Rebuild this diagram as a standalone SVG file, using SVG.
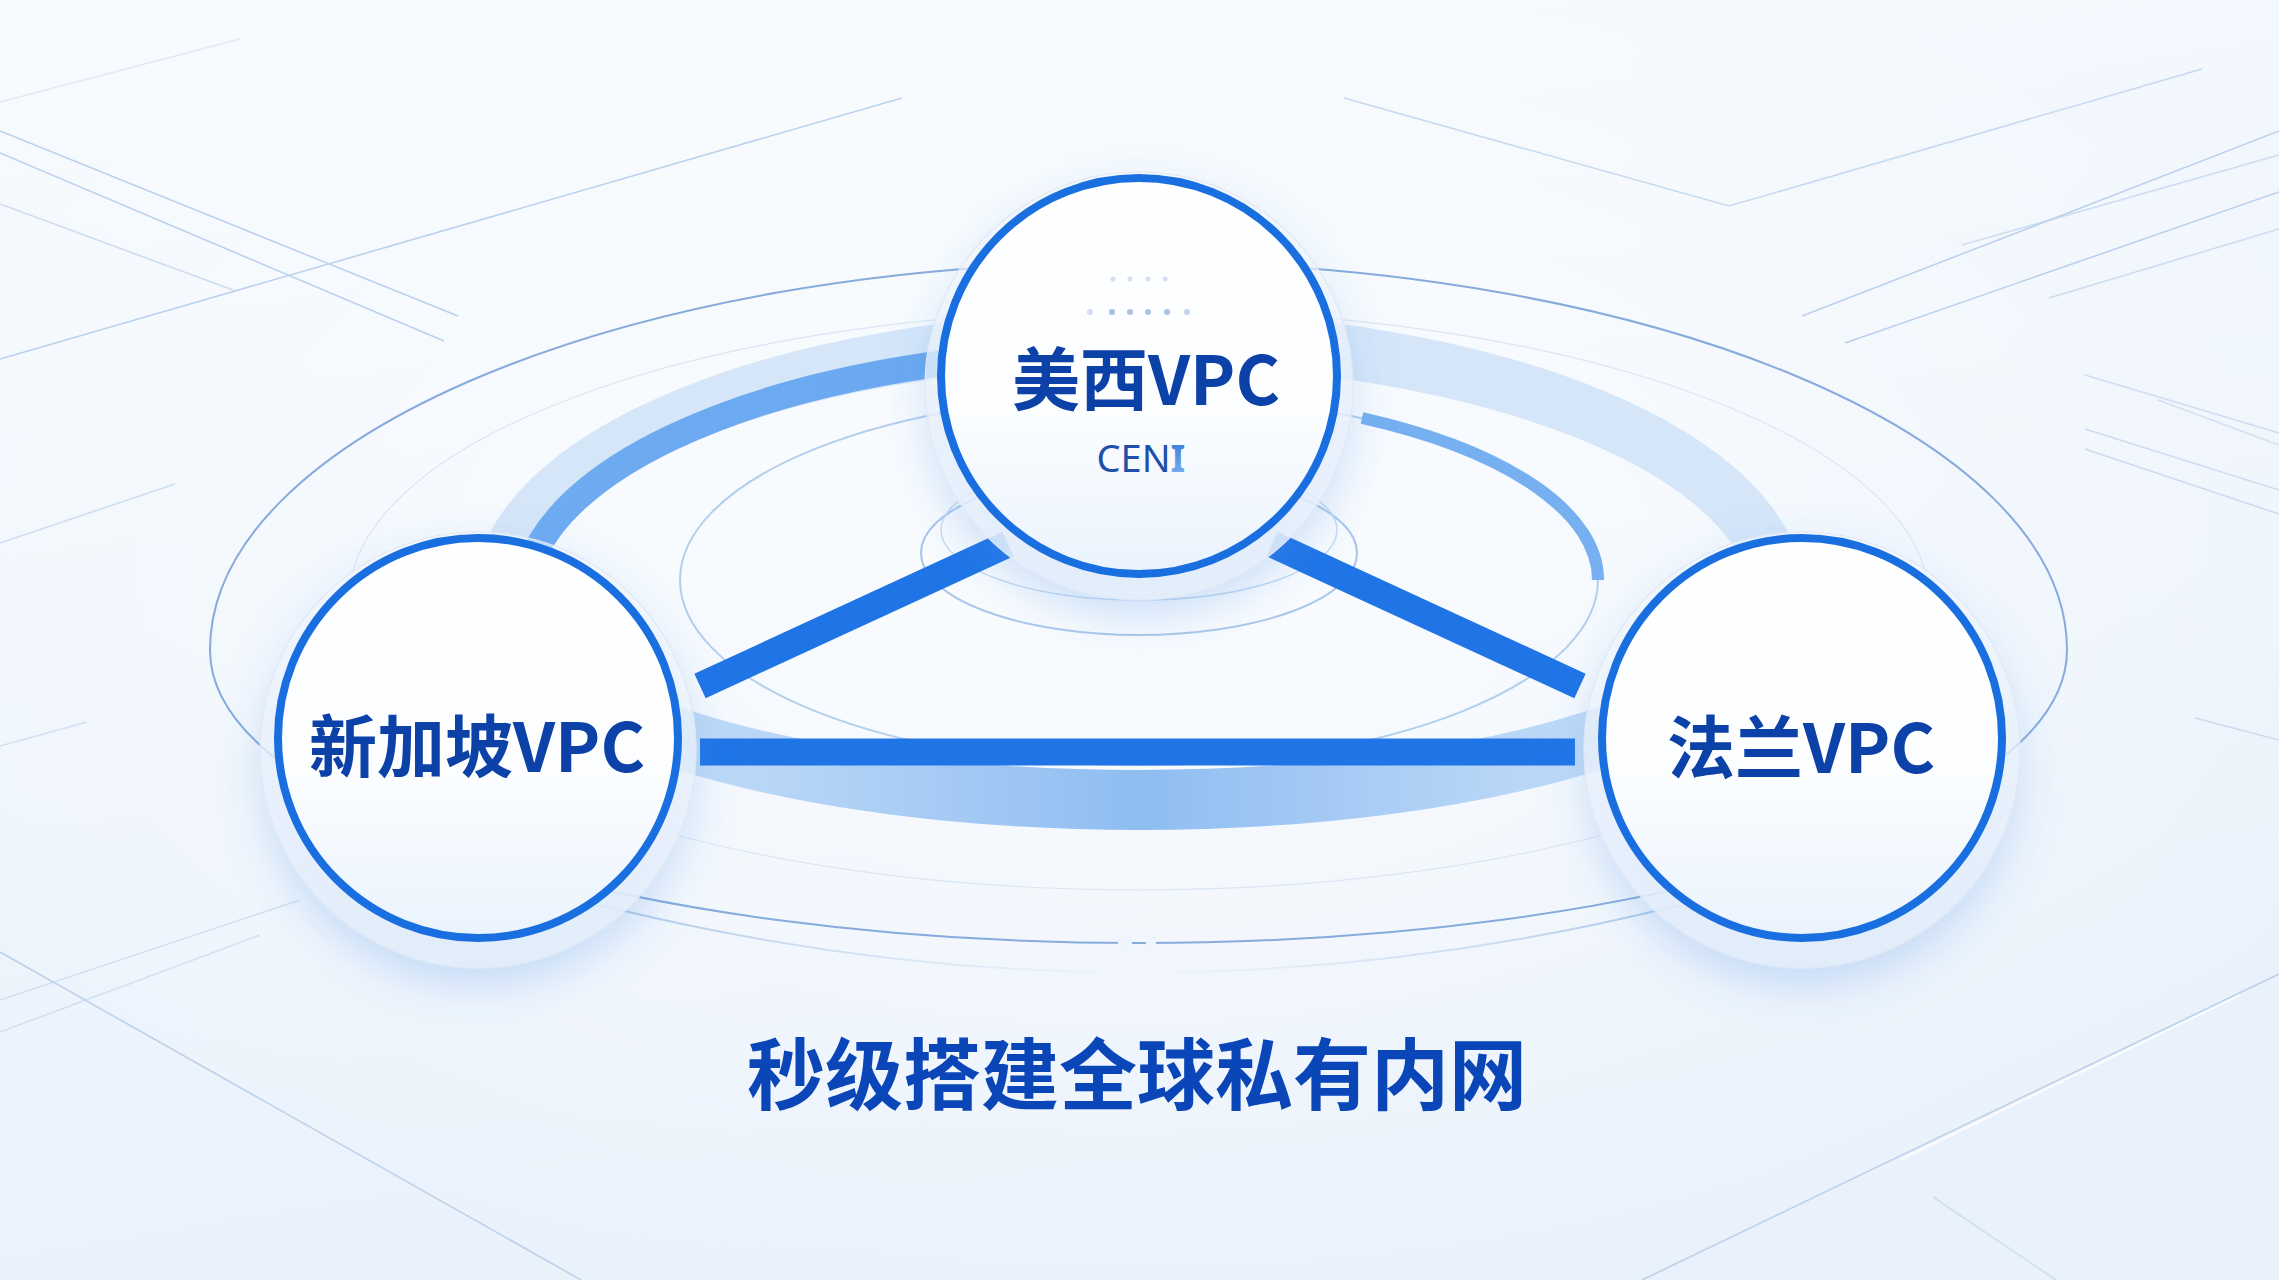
<svg xmlns="http://www.w3.org/2000/svg" width="2279" height="1280" viewBox="0 0 2279 1280">
<defs>
<style>
.bgl{fill:none;stroke:#bcd2ec;stroke-width:1.6}
.node-ring{fill:url(#nodeFill);stroke:#1a6fe0;stroke-width:8}
.halo{fill:url(#haloFill);stroke:#dde8f5;stroke-width:1.2}
.lbl{font-family:"Noto Sans CJK SC","Noto Sans",sans-serif;font-weight:700;font-size:68px;fill:#0c41a8;text-anchor:middle}
.bar{stroke:#1f74e6;stroke-width:27;fill:none;stroke-linecap:butt}
.dot{fill:#a9c1e2}
</style>
<linearGradient id="bg" x1="0" y1="0" x2="0.3" y2="1">
<stop offset="0" stop-color="#f8fbfe"/>
<stop offset="0.5" stop-color="#f0f6fd"/>
<stop offset="1" stop-color="#e9f1fb"/>
</linearGradient>
<radialGradient id="bgGlow" cx="0.5" cy="0.45" r="0.6">
<stop offset="0" stop-color="#ffffff" stop-opacity="0.7"/>
<stop offset="1" stop-color="#ffffff" stop-opacity="0"/>
</radialGradient>
<linearGradient id="nodeFill" x1="0" y1="0" x2="0" y2="1">
<stop offset="0" stop-color="#ffffff"/>
<stop offset="0.6" stop-color="#fbfdff"/>
<stop offset="1" stop-color="#eaf3fd"/>
</linearGradient>
<linearGradient id="haloFill" x1="0" y1="0" x2="0" y2="1">
<stop offset="0" stop-color="#f4f8fd" stop-opacity="0.6"/>
<stop offset="1" stop-color="#e3eefb" stop-opacity="0.9"/>
</linearGradient>
<linearGradient id="bandBottom" gradientUnits="userSpaceOnUse" x1="500" y1="0" x2="1778" y2="0">
<stop offset="0" stop-color="#d5e6f9"/>
<stop offset="0.25" stop-color="#b3d3f6"/>
<stop offset="0.5" stop-color="#8fbdf1"/>
<stop offset="0.75" stop-color="#b3d3f6"/>
<stop offset="1" stop-color="#d5e6f9"/>
</linearGradient>
<linearGradient id="arcGrad" gradientUnits="userSpaceOnUse" x1="530" y1="0" x2="960" y2="0">
<stop offset="0" stop-color="#6eabf1"/>
<stop offset="1" stop-color="#6aa8f0"/>
</linearGradient>
<linearGradient id="lowCurve" gradientUnits="userSpaceOnUse" x1="600" y1="0" x2="1680" y2="0">
<stop offset="0" stop-color="#9dbde3" stop-opacity="0.8"/>
<stop offset="0.3" stop-color="#c3d7ef" stop-opacity="0.5"/>
<stop offset="0.5" stop-color="#c3d7ef" stop-opacity="0"/>
<stop offset="0.7" stop-color="#c3d7ef" stop-opacity="0.5"/>
<stop offset="1" stop-color="#9dbde3" stop-opacity="0.8"/>
</linearGradient>
<linearGradient id="ceniI" x1="0" y1="0" x2="0" y2="1">
<stop offset="0" stop-color="#2a6fd6"/>
<stop offset="1" stop-color="#8ab8f0"/>
</linearGradient>
<filter id="glow" x="-40%" y="-40%" width="180%" height="190%">
<feDropShadow dx="0" dy="16" stdDeviation="22" flood-color="#4a8fe6" flood-opacity="0.3"/>
</filter>
</defs>

<rect width="2279" height="1280" fill="url(#bg)"/>
<rect width="2279" height="1280" fill="url(#bgGlow)"/>

<g id="background-lines">
<line class="bgl" x1="0" y1="131" x2="458" y2="316"/>
<line class="bgl" x1="0" y1="153" x2="444" y2="341"/>
<line class="bgl" x1="0" y1="204" x2="233" y2="290" opacity="0.7"/>
<line class="bgl" x1="0" y1="359" x2="902" y2="98"/>
<line class="bgl" x1="0" y1="543" x2="175" y2="484" opacity="0.7"/>
<line class="bgl" x1="0" y1="102" x2="240" y2="39" opacity="0.4"/>
<polyline class="bgl" points="1344,98 1729,206 2202,69" opacity="0.8"/>
<line class="bgl" x1="1802" y1="316" x2="2279" y2="131"/>
<line class="bgl" x1="1845" y1="343" x2="2279" y2="192"/>
<line class="bgl" x1="1962" y1="245" x2="2279" y2="155" opacity="0.7"/>
<line class="bgl" x1="2049" y1="298" x2="2279" y2="229" opacity="0.7"/>
<line class="bgl" x1="2085" y1="375" x2="2279" y2="433" opacity="0.7"/>
<line class="bgl" x1="2085" y1="429" x2="2279" y2="490" opacity="0.7"/>
<line class="bgl" x1="2085" y1="449" x2="2279" y2="514" opacity="0.7"/>
<line class="bgl" x1="2158" y1="400" x2="2279" y2="445" opacity="0.6"/>
<line class="bgl" x1="2195" y1="718" x2="2279" y2="740" opacity="0.7"/>
<line class="bgl" x1="0" y1="952" x2="581" y2="1280"/>
<line class="bgl" x1="0" y1="1000" x2="300" y2="900" opacity="0.6"/>
<line class="bgl" x1="0" y1="1032" x2="260" y2="935" opacity="0.6"/>
<line class="bgl" x1="0" y1="746" x2="87" y2="722" opacity="0.6"/>
<line class="bgl" x1="2279" y1="974" x2="1642" y2="1280"/>
<line x1="2240" y1="995" x2="1900" y2="1160" stroke="#ffffff" stroke-width="2" opacity="0.8"/>
<line class="bgl" x1="1933" y1="1197" x2="2056" y2="1280" opacity="0.6"/>
</g>

<g id="orbits">
<ellipse cx="1139" cy="600" rx="790" ry="290" fill="none" stroke="#d9e6f4" stroke-width="1.2"/>
<path d="M 1139 262 C 626 262 210 436 210 650 C 210 812 626 943 1139 943 C 1652 943 2067 812 2067 650 C 2067 436 1652 262 1139 262 Z" fill="none" stroke="#86abdc" stroke-width="2"/>
<rect x="1118" y="936" width="14" height="14" fill="#eef5fc"/>
<rect x="1146" y="936" width="10" height="14" fill="#eef5fc"/>
<path d="M 1139 338 C 786 338 500 455 500 600 C 500 710 786 800 1139 800 C 1492 800 1778 710 1778 600 C 1778 455 1492 338 1139 338 Z" fill="none" stroke="#d5e6f9" stroke-width="54"/>
<path d="M 500 600 C 500 710 786 800 1139 800 C 1492 800 1778 710 1778 600" fill="none" stroke="url(#bandBottom)" stroke-width="60"/>
<path d="M 530 565 A 615 250 0 0 1 960 361" fill="none" stroke="url(#arcGrad)" stroke-width="26"/>
<ellipse cx="1139" cy="580" rx="459" ry="185" fill="none" stroke="#b3cfee" stroke-width="2"/>
<path d="M 1362 418 A 459 185 0 0 1 1598 580" fill="none" stroke="#76b0f1" stroke-width="12"/>
<ellipse cx="1139" cy="553" rx="218" ry="82" fill="none" stroke="#aac7eb" stroke-width="2"/>
<ellipse cx="1139" cy="530" rx="198" ry="70" fill="none" stroke="#c6dbf2" stroke-width="1.5"/>
<path d="M 600 905 Q 1139 1040 1680 905" fill="none" stroke="url(#lowCurve)" stroke-width="2"/>
</g>

<g id="connectors">
<line class="bar" x1="700" y1="752" x2="1575" y2="752"/>
<line class="bar" x1="700" y1="686" x2="1008" y2="544"/>
<line class="bar" x1="1272" y1="544" x2="1580" y2="686"/>
</g>

<g id="node-us-west">
<circle class="halo" cx="1139" cy="386" r="214" filter="url(#glow)"/>
<circle class="node-ring" cx="1139" cy="376" r="198"/>
<circle class="dot" cx="1113" cy="279" r="2.5" opacity="0.5"/>
<circle class="dot" cx="1130" cy="279" r="2.5" opacity="0.5"/>
<circle class="dot" cx="1148" cy="279" r="2.5" opacity="0.5"/>
<circle class="dot" cx="1165" cy="279" r="2.5" opacity="0.5"/>
<circle class="dot" cx="1090" cy="312" r="3" opacity="0.5"/>
<circle class="dot" cx="1112" cy="312" r="3"/>
<circle class="dot" cx="1130" cy="312" r="3"/>
<circle class="dot" cx="1148" cy="312" r="3"/>
<circle class="dot" cx="1167" cy="312" r="3"/>
<circle class="dot" cx="1187" cy="312" r="3" opacity="0.7"/>
<text class="lbl" x="1146" y="405">美西VPC</text>
<text x="1141" y="472" font-family="Noto Sans, sans-serif" font-size="38" fill="#1f4fa8" text-anchor="middle">CEN<tspan fill="url(#ceniI)" font-weight="700">I</tspan></text>
</g>

<g id="node-singapore">
<circle class="halo" cx="478" cy="750" r="218" filter="url(#glow)"/>
<circle class="node-ring" cx="478" cy="738" r="200"/>
<text class="lbl" x="477" y="772">新加坡VPC</text>
</g>

<g id="node-frankfurt">
<circle class="halo" cx="1802" cy="750" r="218" filter="url(#glow)"/>
<circle class="node-ring" cx="1802" cy="738" r="200"/>
<text class="lbl" x="1801" y="773">法兰VPC</text>
</g>

<text id="title" x="1137" y="1104" font-family="Noto Sans CJK SC, sans-serif" font-weight="700" font-size="78" fill="#0a46b8" text-anchor="middle">秒级搭建全球私有内网</text>
</svg>
